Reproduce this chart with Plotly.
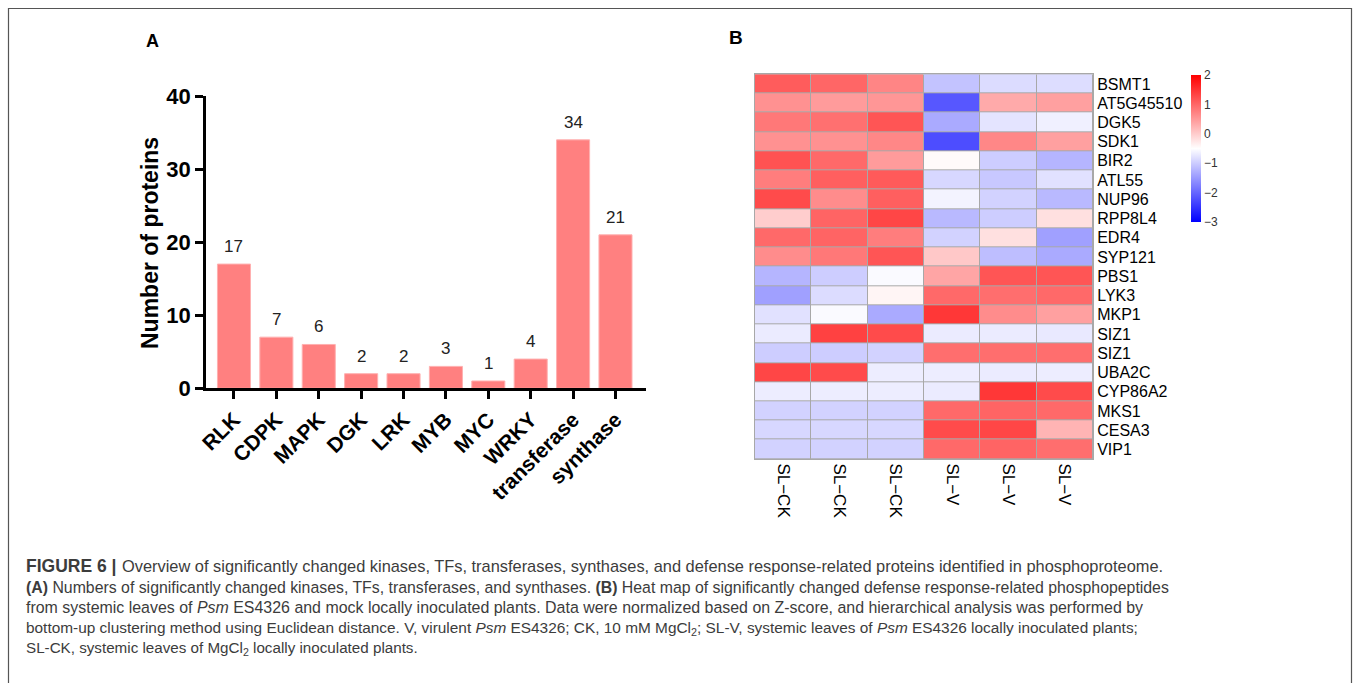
import plotly.graph_objects as go

W, H = 1358, 683

# ---------- Panel A data ----------
categories = ["RLK", "CDPK", "MAPK", "DGK", "LRK", "MYB", "MYC", "WRKY", "transferase", "synthase"]
counts = [17, 7, 6, 2, 2, 3, 1, 4, 34, 21]
y_ticks = [0, 10, 20, 30, 40]

# ---------- Panel B data ----------
genes = ["BSMT1", "AT5G45510", "DGK5", "SDK1", "BIR2", "ATL55", "NUP96", "RPP8L4", "EDR4", "SYP121",
         "PBS1", "LYK3", "MKP1", "SIZ1", "SIZ1", "UBA2C", "CYP86A2", "MKS1", "CESA3", "VIP1"]
samples = ["SL\u2212CK", "SL\u2212CK", "SL\u2212CK", "SL\u2212V", "SL\u2212V", "SL\u2212V"]
zscores = [
    [1.10, 1.00, 0.70, -1.09, -0.84, -0.83],
    [0.58, 0.48, 0.53, -2.15, 0.33, 0.43],
    [0.82, 0.90, 1.17, -1.33, -0.76, -0.65],
    [0.58, 0.58, 0.68, -2.25, 0.68, 0.43],
    [1.20, 0.97, 0.48, -0.45, -0.99, -1.23],
    [0.77, 1.07, 1.12, -0.89, -1.04, -0.79],
    [1.26, 0.63, 1.07, -0.62, -0.94, -1.19],
    [-0.01, 1.02, 1.31, -1.19, -0.99, -0.20],
    [0.97, 1.02, 0.77, -0.94, -0.20, -1.43],
    [0.63, 0.82, 1.17, 0.04, -1.14, -1.33],
    [-1.23, -0.99, -0.55, 0.38, 1.17, 1.17],
    [-1.43, -0.84, -0.40, 0.97, 0.92, 0.97],
    [-0.79, -0.55, -1.33, 1.46, 0.63, 0.43],
    [-0.70, 1.36, 1.26, -0.70, -0.70, -0.72],
    [-0.99, -0.99, -0.94, 0.92, 0.92, 0.92],
    [1.31, 1.26, -0.68, -0.68, -0.70, -0.68],
    [-0.68, -0.68, -0.68, -0.70, 1.46, 1.26],
    [-0.94, -0.94, -0.94, 0.97, 1.02, 0.97],
    [-0.89, -0.89, -0.89, 1.26, 1.31, 0.24],
    [-0.94, -0.94, -0.94, 0.97, 1.02, 0.92],
]
cbar_ticks = [2, 1, 0, -1, -2, -3]

caption_head = "<b>FIGURE 6 |</b>"
caption_lines = [
    "Overview of significantly changed kinases, TFs, transferases, synthases, and defense response-related proteins identified in phosphoproteome.",
    "<b>(A)</b> Numbers of significantly changed kinases, TFs, transferases, and synthases. <b>(B)</b> Heat map of significantly changed defense response-related phosphopeptides",
    "from systemic leaves of <i>Psm</i> ES4326 and mock locally inoculated plants. Data were normalized based on Z-score, and hierarchical analysis was performed by",
    "bottom-up clustering method using Euclidean distance. V, virulent <i>Psm</i> ES4326; CK, 10 mM MgCl<sub>2</sub>; SL-V, systemic leaves of <i>Psm</i> ES4326 locally inoculated plants;",
    "SL-CK, systemic leaves of MgCl<sub>2</sub> locally inoculated plants.",
]

def px(x):
    return x / W

def py(y):
    return 1 - y / H

fig = go.Figure()

# Bar chart
fig.add_trace(go.Bar(
    x=list(range(len(categories))), y=counts,
    marker=dict(color="#FF8080", line=dict(color="#FFB0B0", width=1)),
    width=0.78, xaxis="x", yaxis="y", showlegend=False, hoverinfo="x+y",
))

# Heatmap
fig.add_trace(go.Heatmap(
    z=zscores, x=list(range(len(samples))), y=list(range(len(genes))),
    zmin=-3, zmax=2,
    colorscale=[[0, "rgb(0,0,255)"], [0.5, "rgb(255,255,255)"], [1, "rgb(255,0,0)"]],
    xgap=1, ygap=1, xaxis="x2", yaxis="y2",
    colorbar=dict(
        x=px(1191), xanchor="left", y=py(75), yanchor="top",
        thickness=10, thicknessmode="pixels", len=147, lenmode="pixels",
        outlinewidth=0, xpad=0, ypad=0,
        tickvals=cbar_ticks, ticks="", tickfont=dict(size=12, color="#333", family="Liberation Sans, Arial"),
    ),
))

layout_font = "Liberation Sans, Arial, sans-serif"

fig.update_layout(
    width=W, height=H, margin=dict(l=0, r=0, t=0, b=0, autoexpand=False),
    paper_bgcolor="white", plot_bgcolor="white",
    font=dict(family=layout_font, color="black"),
    xaxis=dict(
        domain=[px(206), px(646)], range=[-0.66, len(categories) - 1 + 0.72],
        tickvals=list(range(len(categories))), ticktext=categories, tickangle=-45,
        tickfont=dict(size=21, weight="bold", color="black"),
        showline=True, linecolor="black", linewidth=2.5,
        ticks="outside", ticklen=8, tickwidth=2.5, tickcolor="black",
        showgrid=False, zeroline=False, anchor="y", automargin=False,
    ),
    yaxis=dict(
        domain=[py(388.3), py(96)], range=[0, 40],
        tickvals=y_ticks, tickfont=dict(size=22, weight="bold", color="black"),
        showline=True, linecolor="black", linewidth=2.5,
        ticks="outside", ticklen=8, tickwidth=2.5, tickcolor="black",
        showgrid=False, zeroline=False, anchor="x", automargin=False,
    ),
    xaxis2=dict(
        domain=[px(755), px(1093)], range=[-0.5, len(samples) - 0.5],
        tickvals=list(range(len(samples))), ticktext=samples, tickangle=90,
        tickfont=dict(size=17, color="black"), ticks="",
        showline=True, mirror=True, linecolor="#A8A8A8", linewidth=1,
        showgrid=False, zeroline=False, anchor="y2", automargin=False,
    ),
    yaxis2=dict(
        domain=[py(459), py(74.3)], range=[len(genes) - 0.5, -0.5],
        tickvals=list(range(len(genes))), ticktext=genes, side="right",
        tickfont=dict(size=16, color="black"), ticks="",
        showline=True, mirror=True, linecolor="#A8A8A8", linewidth=1,
        showgrid=False, zeroline=False, anchor="x2", automargin=False,
    ),
)

shapes = [
    # grey grid behind heatmap cells
    dict(type="rect", xref="x2 domain", yref="y2 domain", x0=0, x1=1, y0=0, y1=1,
         fillcolor="#A8A8A8", line=dict(width=0), layer="below"),
    # figure border
    dict(type="rect", xref="paper", yref="paper", x0=px(8.5), x1=px(1351.5), y0=py(700), y1=py(8.5),
         line=dict(color="#555", width=1.2), fillcolor="rgba(0,0,0,0)"),
]
fig.update_layout(shapes=shapes)

annotations = []
# value labels above bars
for i, v in enumerate(counts):
    annotations.append(dict(x=i, y=v, xref="x", yref="y", text=str(v), showarrow=False,
                            yanchor="bottom", yshift=6, font=dict(size=17, color="#222")))
# y axis title
annotations.append(dict(x=px(150), y=py(243), xref="paper", yref="paper", text="<b>Number of proteins</b>",
                        textangle=-90, showarrow=False, font=dict(size=23, color="black"),
                        xanchor="center", yanchor="middle"))
# panel letters
annotations.append(dict(x=px(152), y=py(41), xref="paper", yref="paper", text="<b>A</b>", showarrow=False,
                        font=dict(size=18, color="black"), xanchor="center", yanchor="middle"))
annotations.append(dict(x=px(736), y=py(38), xref="paper", yref="paper", text="<b>B</b>", showarrow=False,
                        font=dict(size=19, color="black"), xanchor="center", yanchor="middle"))
# caption
cap_color = "#3c3c3c"
annotations.append(dict(x=px(24), y=py(566), xref="paper", yref="paper", text=caption_head, showarrow=False,
                        xanchor="left", yanchor="middle", align="left",
                        font=dict(size=17.5, color=cap_color, family=layout_font)))
cap_y = [566, 587, 607, 628, 648]
cap_x = [120, 24, 24, 24, 24]
cap_size = [16.4, 15.85, 15.95, 15.4, 15.2]
for t, yy, xx, sz in zip(caption_lines, cap_y, cap_x, cap_size):
    annotations.append(dict(x=px(xx), y=py(yy), xref="paper", yref="paper", text=t, showarrow=False,
                            xanchor="left", yanchor="middle", align="left",
                            font=dict(size=sz, color=cap_color, family=layout_font)))
fig.update_layout(annotations=annotations)

fig.write_html("out.html")
